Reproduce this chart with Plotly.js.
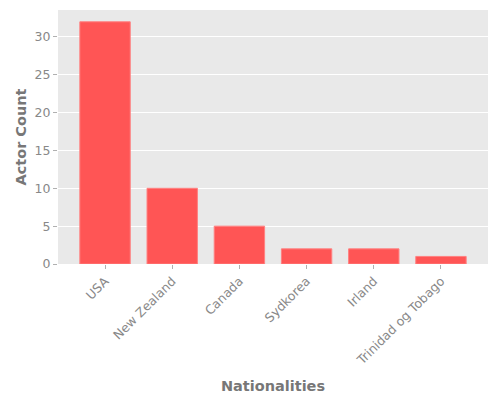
<!DOCTYPE html>
<html><head><meta charset="utf-8">
<script src="https://cdn.plot.ly/plotly-3.0.1.min.js"></script>
<style>html,body{margin:0;padding:0;background:#fff}</style>
</head><body>
<div id="chart" style="width:500px;height:400px"></div>
<script>
const nationalities = ["USA", "New Zealand", "Canada", "Sydkorea", "Irland", "Trinidad og Tobago"];
const actorCounts = [32, 10, 5, 2, 2, 1];
const yTicks = [0, 5, 10, 15, 20, 25, 30];

Plotly.newPlot('chart', [{
  type: 'bar',
  x: nationalities,
  y: actorCounts,
  width: 0.75,
  marker: {color: '#ff5555', line: {color: '#ff8080', width: 1}},
  hoverinfo: 'none'
}], {
  width: 500, height: 400,
  margin: {l: 58, r: 12, t: 10, b: 136},
  paper_bgcolor: '#ffffff',
  plot_bgcolor: '#e9e9e9',
  font: {family: 'DejaVu Sans', color: '#888888', size: 12.5},
  showlegend: false,
  xaxis: {
    range: [-0.7, 5.7],
    tickangle: -45,
    ticks: 'outside', ticklen: 4, tickcolor: '#b0b0b0',
    showgrid: false, zeroline: false,
    tickfont: {size: 12.5, color: '#888888'},
    title: {text: '<b>Nationalities</b>', font: {size: 14.5, color: '#777777'}, standoff: 13}
  },
  yaxis: {
    range: [0, 33.56],
    tickvals: yTicks,
    ticks: 'outside', ticklen: 4, tickcolor: '#b0b0b0',
    gridcolor: '#ffffff', gridwidth: 1, zeroline: false,
    tickfont: {size: 12.5, color: '#888888'},
    title: {text: '<b>Actor Count</b>', font: {size: 14.5, color: '#777777'}, standoff: 4}
  }
}, {staticPlot: true});
</script>
</body></html>
